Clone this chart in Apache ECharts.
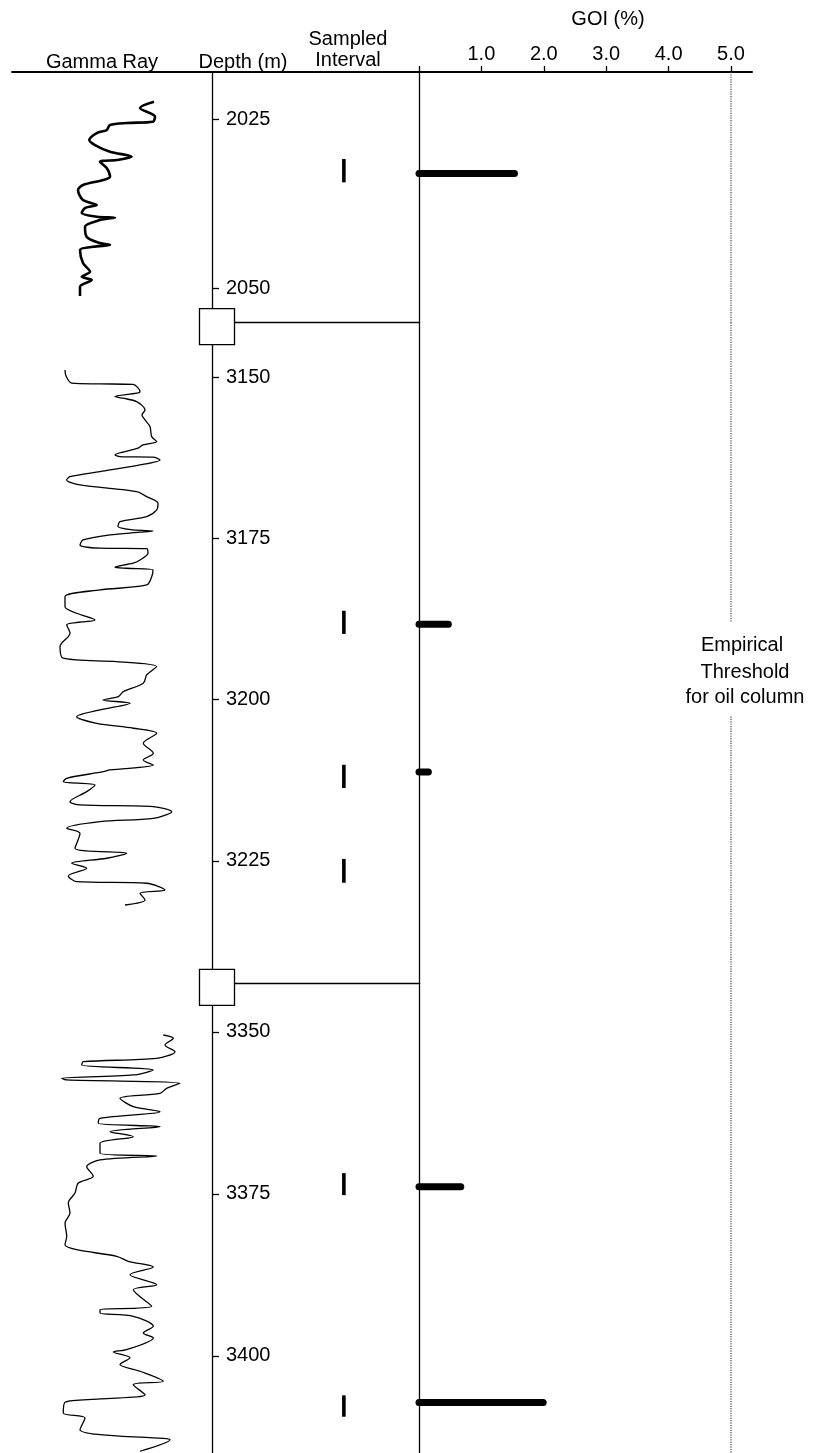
<!DOCTYPE html>
<html><head><meta charset="utf-8">
<script src="https://cdn.jsdelivr.net/npm/echarts@6/dist/echarts.min.js"></script>
<style>html,body{margin:0;padding:0;background:#fff}#c{width:814px;height:1453px}</style>
</head><body><div id="c"></div>
<script>
// ---------------- DATA ----------------
const depthRanges = [[2018, 2055], [3141.5, 3244], [3342.5, 3415]];
const depthTicks = [[2025, 2050], [3150, 3175, 3200, 3225], [3350, 3375, 3400]];
const goiTicks = [1, 2, 3, 4, 5];
const threshold = 5.0;
const breakDepths = [2055, 3244];

// Gamma ray [GR value, depth m]
const gammaRay1 = [[142,2022.39],[128,2023.32],[143,2024.60],[141,2025.34],[115,2025.53],[98,2025.83],[94.7,2026.57],[84.7,2027.01],[77.3,2028.04],[83,2028.78],[98,2029.77],[119.7,2030.51],[104.7,2031.0],[88,2031.25],[94.7,2032.18],[98,2033.46],[91,2033.95],[71,2034.69],[66,2035.43],[71,2036.91],[84.7,2037.64],[73,2038.09],[69.7,2038.83],[84.7,2039.37],[103,2039.49],[88,2039.86],[73,2040.85],[74.7,2042.33],[88,2043.26],[98,2043.55],[81,2043.80],[68,2044.29],[71,2046.21],[78,2047.50],[69.7,2048.23],[79.7,2048.72],[68,2049.71],[68,2051.08]];
const gammaRay2 = [[53,3148.84],[54,3149.77],[59.7,3150.90],[88,3151.01],[121,3151.09],[128,3152.21],[124.7,3152.45],[103,3152.98],[111,3153.23],[124.7,3153.76],[133,3155.05],[130,3155.82],[133,3156.60],[138,3157.64],[139.7,3159.19],[144.7,3159.96],[131,3160.48],[126,3160.99],[103,3162.03],[108,3162.29],[141,3162.38],[148,3162.80],[128,3163.58],[88,3164.62],[58,3165.39],[54.7,3165.91],[68,3166.68],[124.7,3167.72],[134.7,3168.50],[146,3169.52],[144.7,3170.56],[134.7,3171.60],[108,3172.38],[106,3173.15],[121,3173.66],[141,3173.82],[128,3174.02],[98,3174.44],[71,3175.22],[68,3175.99],[88,3176.50],[134.7,3176.58],[136,3177.28],[128,3178.32],[121,3178.83],[103,3179.45],[114.7,3179.61],[141,3179.87],[139.7,3180.91],[134.7,3182.20],[88,3182.97],[53,3184.01],[53,3185.57],[64.7,3186.59],[83,3187.63],[54.7,3188.40],[58,3189.69],[48,3191.77],[51.3,3193.57],[104.7,3194.10],[144.7,3194.87],[134.7,3196.16],[131.3,3197.45],[111.3,3198.75],[106.3,3199.53],[91,3200.04],[118,3200.55],[88,3201.59],[64.7,3202.63],[84.7,3203.66],[121.3,3204.43],[144.7,3205.21],[131.3,3206.76],[141.3,3208.31],[131.3,3209.35],[141.3,3210.13],[98,3210.90],[91.3,3211.17],[54.7,3212.19],[51.3,3212.72],[83,3213.23],[74.7,3214.27],[58,3215.82],[68,3216.33],[141.3,3216.60],[159.7,3217.37],[141.3,3218.40],[88,3218.92],[54.7,3219.95],[68,3220.72],[63,3223.05],[114.7,3223.83],[94.7,3224.60],[59.7,3225.38],[74.7,3226.15],[56.3,3227.35],[64.7,3228.23],[134.7,3228.48],[153,3229.52],[128,3230.03],[133,3231.07],[113,3231.85]];
const gammaRay3 = [[151.3,3350.48],[161.3,3350.99],[153,3352.02],[163,3353.06],[144.7,3354.08],[71.3,3354.60],[69.7,3355.11],[141.3,3355.88],[121.3,3356.65],[49.7,3357.16],[54.7,3357.42],[168,3357.93],[154.7,3358.71],[148,3359.48],[108,3360.25],[121.3,3361.55],[148,3362.32],[88,3363.34],[86.3,3364.11],[148,3364.63],[98,3365.40],[121.3,3366.18],[88,3367.20],[88,3368.74],[144.7,3369.16],[88,3369.77],[74.7,3370.81],[81.3,3372.29],[66.3,3373.32],[63,3374.87],[56.3,3376.41],[58,3377.97],[53,3379.50],[54.7,3381.55],[53,3382.85],[64.7,3383.62],[104.7,3384.64],[116.3,3385.41],[141.3,3386.29],[118,3387.48],[144.7,3389.02],[121.3,3389.79],[139.7,3392.36],[88,3392.88],[88,3393.39],[121.3,3393.90],[141.3,3395.44],[131.3,3396.47],[141.3,3397.25],[114.7,3399.05],[101.3,3399.4],[118,3400.3],[108,3401.34],[128,3402.38],[151.3,3403.92],[121.3,3404.45],[133,3406.0],[88,3406.66],[53,3407.17],[51.3,3408.82],[73,3409.59],[68,3411.40],[88,3412.17],[141.3,3412.68],[158,3412.94],[128,3414.73]];

// Sampled intervals [top depth, bottom depth]
const sampled1 = [[2030.85, 2034.29]];
const sampled2 = [[3186.2, 3189.8], [3210.1, 3213.7], [3224.7, 3228.4]];
const sampled3 = [[3371.8, 3375.2], [3406.1, 3409.4]];

// GOI (%) [depth, value]
const goi1 = [[2033.0, 1.53]];
const goi2 = [[3188.3, 0.47], [3211.2, 0.15]];
const goi3 = [[3373.9, 0.67], [3407.2, 1.99]];

// ---------------- LAYOUT ----------------
const FONT = "'Liberation Sans', Arial, Helvetica, sans-serif";
const FS = 20;
const segTop = [72, 322.6, 983.3];
const segH = [250.6, 660.7, 469.7];
const GOI_PX = 62.4;         // px per GOI unit
const GOI_W = 333;
const SAMPLE_POS = 0.637;    // marker position inside sampled-interval track
const gammaRay = [gammaRay1, gammaRay2, gammaRay3];
const sampled = [sampled1, sampled2, sampled3];
const goi = [goi1, goi2, goi3];
const labelGap = [3187.9, 3202.6]; // threshold line gap for annotation

const grid = [], xAxis = [], yAxis = [], series = [];
const blk = { color: '#000', width: 1.3 };
for (let i = 0; i < 3; i++) {
  const top = segTop[i], h = segH[i], first = i === 0;
  const [dmin, dmax] = depthRanges[i];
  const g0 = grid.length;
  grid.push({ left: 12, top, width: 200, height: h });
  grid.push({ left: 212, top, width: 207, height: h });
  grid.push({ left: 419, top, width: GOI_W, height: h });
  const xa = xAxis.length;
  const hdr = { show: true, lineStyle: { color: '#000', width: 2 } };
  xAxis.push({ gridIndex: g0, type: 'value', min: 0, max: 200, position: 'top', show: first,
    axisLine: hdr, axisTick: { show: false }, axisLabel: { show: false }, splitLine: { show: false } });
  xAxis.push({ gridIndex: g0 + 1, type: 'value', min: 0, max: 1, position: 'top', show: first,
    axisLine: hdr, axisTick: { show: false }, axisLabel: { show: false }, splitLine: { show: false } });
  xAxis.push({ gridIndex: g0 + 2, type: 'value', min: 0, max: GOI_W / GOI_PX, position: 'top', show: first,
    axisLine: hdr,
    axisTick: { show: true, customValues: [0].concat(goiTicks), length: 6, lineStyle: blk },
    axisLabel: { show: true, customValues: goiTicks, formatter: v => Number(v).toFixed(1),
      fontSize: FS, color: '#000', fontFamily: FONT, margin: 8 },
    splitLine: { show: false } });
  if (i < 2) {
    xAxis.push({ gridIndex: g0 + 1, type: 'value', min: 0, max: 1, position: 'bottom',
      axisLine: { show: true, lineStyle: blk }, axisTick: { show: false }, axisLabel: { show: false }, splitLine: { show: false } });
  }
  const ya = yAxis.length;
  yAxis.push({ gridIndex: g0, type: 'value', inverse: true, min: dmin, max: dmax, show: false, splitLine: { show: false } });
  yAxis.push({ gridIndex: g0 + 1, type: 'value', inverse: true, min: dmin, max: dmax, position: 'left',
    axisLine: { show: true, lineStyle: blk },
    axisTick: { show: true, inside: true, length: 7, customValues: depthTicks[i], lineStyle: blk },
    axisLabel: { show: true, inside: true, margin: 14, customValues: depthTicks[i],
      formatter: v => String(Math.round(v)),
      fontSize: FS, color: '#000', fontFamily: FONT },
    splitLine: { show: false } });
  yAxis.push({ gridIndex: g0 + 2, type: 'value', inverse: true, min: dmin, max: dmax, position: 'left',
    axisLine: { show: true, lineStyle: blk }, axisTick: { show: false }, axisLabel: { show: false }, splitLine: { show: false } });

  // Gamma ray curve
  series.push({ type: 'line', name: 'Gamma Ray', xAxisIndex: xa, yAxisIndex: ya, data: gammaRay[i],
    symbol: 'none', smooth: 0.3, silent: true,
    lineStyle: { color: '#000', width: first ? 2.6 : 1.3 } });

  // Sampled interval markers
  series.push({ type: 'custom', name: 'Sampled Interval', xAxisIndex: xa + 1, yAxisIndex: ya + 1,
    data: sampled[i], encode: { y: [0, 1] }, silent: true,
    renderItem: (params, api) => {
      const cs = params.coordSys;
      const x = cs.x + cs.width * SAMPLE_POS;
      const y1 = api.coord([0, api.value(0)])[1];
      const y2 = api.coord([0, api.value(1)])[1];
      return { type: 'line', shape: { x1: x, y1, x2: x, y2 }, style: { stroke: '#000', lineWidth: 3.6 } };
    } });

  // Depth break boxes
  if (i < 2) {
    series.push({ type: 'custom', name: 'Break', xAxisIndex: xa + 1, yAxisIndex: ya + 1,
      data: [[breakDepths[i]]], encode: { y: 0 }, clip: false, z: 10, silent: true,
      renderItem: (params, api) => {
        const p = api.coord([0, api.value(0)]);
        return { type: 'rect', shape: { x: p[0] - 12.5, y: p[1] - 14, width: 35, height: 36 },
          style: { fill: '#fff', stroke: '#000', lineWidth: 1.3 } };
      } });
  }

  // GOI bars
  series.push({ type: 'custom', name: 'GOI', xAxisIndex: xa + 2, yAxisIndex: ya + 2,
    data: goi[i], encode: { y: 0, x: 1 }, clip: false, z: 5, silent: true,
    renderItem: (params, api) => {
      const d = api.value(0), v = api.value(1);
      const a = api.coord([0, d]), b = api.coord([v, d]);
      return { type: 'line', shape: { x1: a[0], y1: a[1], x2: b[0], y2: b[1] },
        style: { stroke: '#000', lineWidth: 7, lineCap: 'round' } };
    } });

  // Threshold dotted line
  const pieces = (i === 1) ? [[dmin, labelGap[0]], [labelGap[1], dmax]] : [[dmin, dmax]];
  pieces.forEach(pc => {
    series.push({ type: 'line', name: 'Threshold', xAxisIndex: xa + 2, yAxisIndex: ya + 2,
      data: [[threshold, pc[0]], [threshold, pc[1]]], symbol: 'none', silent: true,
      lineStyle: { color: '#444', width: 1.2, type: 'dotted' } });
  });
}

function txt(text, x, y) {
  return { type: 'text', x, y, silent: true,
    style: { text, fill: '#000', font: FS + 'px ' + FONT, align: 'center', verticalAlign: 'middle',
      textAlign: 'center', textVerticalAlign: 'middle' } };
}
const graphic = [
  txt('Gamma Ray', 102, 62),
  txt('Depth (m)', 243, 62),
  txt('Sampled', 348, 39),
  txt('Interval', 348, 60),
  txt('GOI (%)', 608, 19),
  txt('Empirical', 742, 645),
  txt('Threshold', 745, 672),
  txt('for oil column', 745, 697)
];

const chart = echarts.init(document.getElementById('c'));
chart.setOption({ animation: false, backgroundColor: '#fff', grid, xAxis, yAxis, series, graphic });
</script></body></html>
